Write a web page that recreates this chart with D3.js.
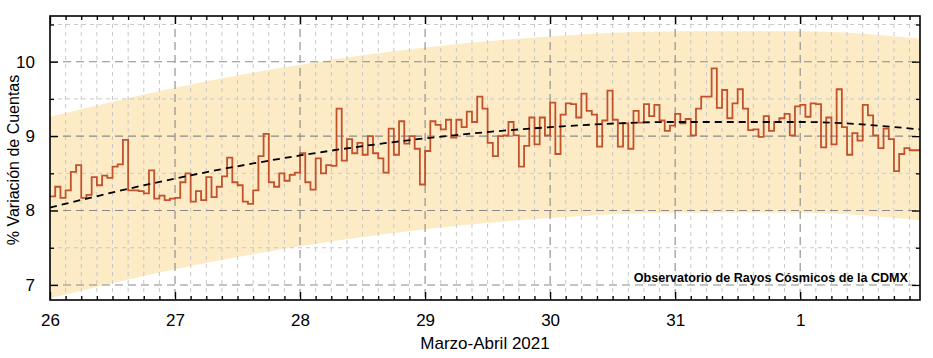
<!DOCTYPE html>
<html><head><meta charset="utf-8">
<script src="https://cdn.jsdelivr.net/npm/d3@7/dist/d3.min.js"></script>
<style>body{margin:0;background:#fff}svg{display:block}text{font-family:"Liberation Sans",Arial,sans-serif}</style>
</head><body><svg id="c" width="933" height="358"></svg>
<script>
// Hourly % count variation, from 26 March 00:00 (hour 0) to 2 April 22:00 (hour 166)
const counts = [
8.19,8.32,8.17,8.27,8.52,8.61,8.17,8.21,8.45,8.34,8.47,8.44,8.59,8.62,8.95,8.27,8.27,8.26,8.23,8.54,8.16,8.20,8.14,8.16,
8.17,8.38,8.50,8.12,8.26,8.14,8.45,8.18,8.32,8.46,8.71,8.38,8.34,8.12,8.09,8.27,8.73,9.03,8.38,8.32,8.50,8.40,8.48,8.51,
8.77,8.38,8.28,8.70,8.50,8.61,8.60,9.37,8.67,8.96,8.77,8.91,8.75,9.00,8.77,8.70,8.51,9.10,8.75,9.20,8.90,9.00,8.83,8.35,
8.80,9.20,9.15,9.09,9.22,8.98,9.22,9.12,9.33,9.19,9.53,9.37,8.91,8.73,9.00,9.01,9.19,9.01,8.59,8.87,9.25,8.89,9.25,9.01,
9.45,8.76,9.29,9.44,9.43,9.25,9.57,9.34,9.29,8.86,9.21,9.61,9.22,8.86,9.17,8.83,9.34,9.18,9.43,9.27,9.42,9.21,9.07,9.14,
9.30,9.17,9.23,9.01,9.37,9.53,9.53,9.91,9.38,9.62,9.24,9.44,9.63,9.37,9.08,9.09,8.99,9.27,9.07,9.19,9.24,9.30,9.01,9.40,
9.42,9.26,9.44,9.43,8.85,9.25,8.89,9.63,9.12,8.75,9.04,8.94,9.42,9.28,9.01,8.84,9.10,8.96,8.53,8.76,8.84,8.81,8.81
];
// Trend and uncertainty band, sampled at day offsets
const trendDays = [0,1,2,3,4,5,6,6.96];
const trendVals = [8.04,8.43,8.74,8.97,9.12,9.19,9.19,9.09];
const bandUpper = [9.26,9.65,9.96,10.19,10.34,10.41,10.41,10.31];
const bandLower = [6.82,7.21,7.52,7.75,7.90,7.97,7.97,7.87];
const xTickLabels = ["26","27","28","29","30","31","1"];
const yTicks = [7,8,9,10];
const xTitle = "Marzo-Abril 2021";
const yTitle = "% Variación de Cuentas";
const note = "Observatorio de Rayos Cósmicos de la CDMX";

const L=50,R=920,T=16,B=300;
const svg=d3.select("#c");
const x=d3.scaleLinear().domain([0,167]).range([L,R]);
const y=d3.scaleLinear().domain([6.798,10.614]).range([B,T]);

svg.append("defs").append("clipPath").attr("id","cp").append("rect")
  .attr("x",L).attr("y",T).attr("width",R-L).attr("height",B-T);
const g=svg.append("g").attr("clip-path","url(#cp)");

// band
const bandData=trendDays.map((d,i)=>({h:d*24,u:bandUpper[i],l:bandLower[i]}));
g.append("path").datum(bandData)
  .attr("d",d3.area().x(d=>x(d.h)).y0(d=>y(d.l)).y1(d=>y(d.u)).curve(d3.curveMonotoneX))
  .attr("fill","#fdebc6");

// grid
const minorX=d3.range(0,168,3).filter(h=>h%24!==0);
const majorX=d3.range(24,168,24);
g.selectAll(".mx").data(minorX).join("line")
  .attr("x1",d=>x(d)).attr("x2",d=>x(d)).attr("y1",T).attr("y2",B)
  .attr("stroke","#c8c8c8").attr("stroke-width",1).attr("stroke-dasharray","4,4");
const minorY=[7.5,8.5,9.5,10.5];
g.selectAll(".my").data(minorY).join("line")
  .attr("x1",L).attr("x2",R).attr("y1",d=>y(d)).attr("y2",d=>y(d))
  .attr("stroke","#c8c8c8").attr("stroke-width",1).attr("stroke-dasharray","4,4");
g.selectAll(".Mx").data(majorX).join("line")
  .attr("x1",d=>x(d)).attr("x2",d=>x(d)).attr("y1",T).attr("y2",B)
  .attr("stroke","#8a8a8a").attr("stroke-width",1.1).attr("stroke-dasharray","8,5");
g.selectAll(".My").data(yTicks).join("line")
  .attr("x1",L).attr("x2",R).attr("y1",d=>y(d)).attr("y2",d=>y(d))
  .attr("stroke","#8a8a8a").attr("stroke-width",1.1).attr("stroke-dasharray","8,5");

// step series
const pts=counts.map((v,i)=>[i,v]); pts.push([counts.length,counts[counts.length-1]]);
g.append("path").datum(pts)
  .attr("d",d3.line().x(d=>x(d[0])).y(d=>y(d[1])).curve(d3.curveStepAfter))
  .attr("fill","none").attr("stroke","#c2522c").attr("stroke-width",1.8).attr("stroke-linejoin","miter");

// trend
g.append("path").datum(trendDays.map((d,i)=>[d*24,trendVals[i]]))
  .attr("d",d3.line().x(d=>x(d[0])).y(d=>y(d[1])).curve(d3.curveMonotoneX))
  .attr("fill","none").attr("stroke","#000").attr("stroke-width",1.8).attr("stroke-dasharray","7,5");

// axes (inward ticks)
const tickFmt=(h)=>xTickLabels[h/24];
const xb=d3.axisBottom(x).tickValues(d3.range(0,168,24)).tickSize(-8).tickPadding(14).tickFormat(tickFmt);
const xbMinor=d3.axisBottom(x).tickValues(minorX).tickSize(-4).tickFormat("");
const xt=d3.axisTop(x).tickValues(d3.range(0,168,24)).tickSize(-8).tickFormat("");
const xtMinor=d3.axisTop(x).tickValues(minorX).tickSize(-4).tickFormat("");
const yl=d3.axisLeft(y).tickValues(yTicks).tickSize(-8).tickPadding(15).tickFormat(d3.format("d"));
const ylMinor=d3.axisLeft(y).tickValues(minorY).tickSize(-4).tickFormat("");
const yr=d3.axisRight(y).tickValues(yTicks).tickSize(-8).tickFormat("");
const yrMinor=d3.axisRight(y).tickValues(minorY).tickSize(-4).tickFormat("");
function put(ax,tr){const a=svg.append("g").attr("transform",tr).call(ax);
  a.select(".domain").remove(); a.selectAll("line").attr("stroke","#000").attr("stroke-width",1.3);
  a.selectAll("text").attr("font-size",17).attr("fill","#000").attr("font-family","Liberation Sans, Arial, sans-serif");
  return a;}
put(xb,`translate(0,${B})`); put(xbMinor,`translate(0,${B})`);
put(xt,`translate(0,${T})`); put(xtMinor,`translate(0,${T})`);
put(yl,`translate(${L},0)`); put(ylMinor,`translate(${L},0)`);
put(yr,`translate(${R},0)`); put(yrMinor,`translate(${R},0)`);

svg.append("rect").attr("x",L).attr("y",T).attr("width",R-L).attr("height",B-T)
  .attr("fill","none").attr("stroke","#000").attr("stroke-width",1.6);

svg.append("text").attr("x",(L+R)/2).attr("y",349).attr("text-anchor","middle")
  .attr("font-size",17).text(xTitle);
svg.append("text").attr("transform",`translate(19,160) rotate(-90)`).attr("text-anchor","middle")
  .attr("font-size",16).text(yTitle);
svg.append("text").attr("x",908).attr("y",282).attr("text-anchor","end")
  .attr("font-size",12.6).attr("font-weight","bold").text(note);
</script></body></html>
